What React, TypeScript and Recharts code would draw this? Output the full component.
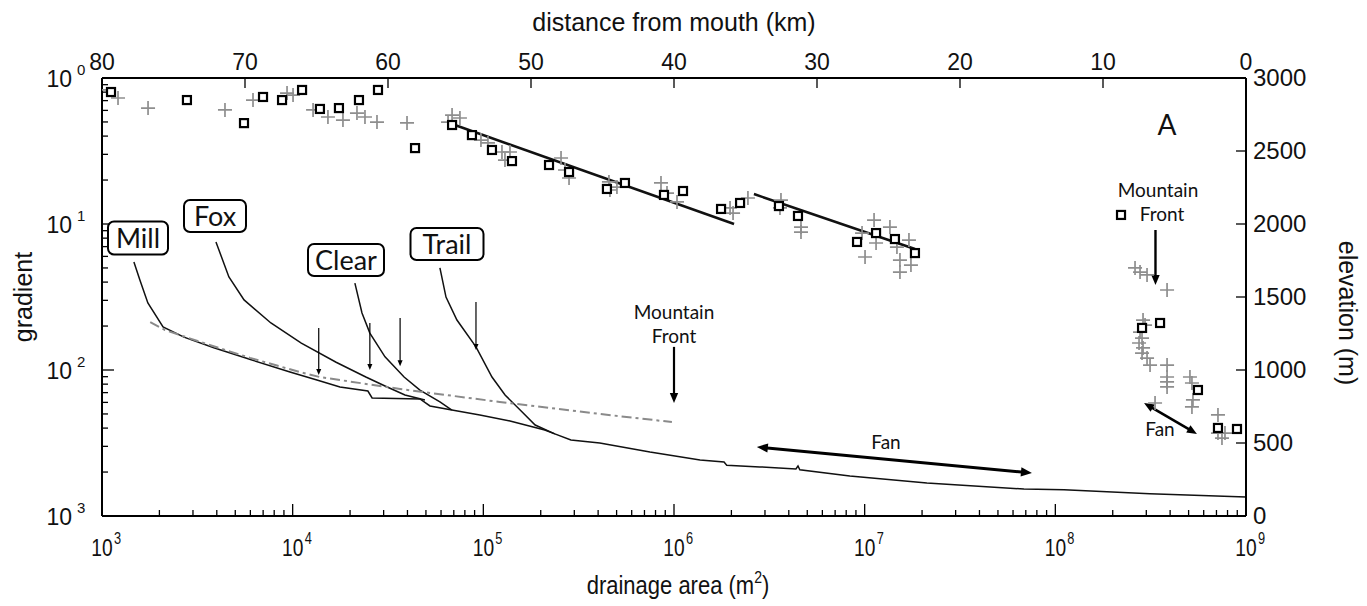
import React from "react";
import { ComposedChart, Line, Scatter, XAxis, YAxis, ReferenceLine } from "recharts";

// Gradient vs drainage area (bottom/left axes) plus long profile (top/right axes).
// Values.

const FONT = "'Liberation Sans', Arial, sans-serif";
const LABEL_FONT = "Lato, 'Open Sans', sans-serif";

// [drainage area m², gradient]
const millCurve: [number, number][] = [
  [1.47e3, 0.0549], [1.58e3, 0.0413], [1.74e3, 0.0288], [2.09e3, 0.0197], [2.69e3, 0.0168],
  [3.86e3, 0.0142], [6.12e3, 0.0117], [9.68e3, 0.00969], [1.34e4, 0.00855], [1.77e4, 0.00765],
  [2.48e4, 0.00718], [2.61e4, 0.00643], [4.65e4, 0.00633], [5.25e4, 0.00567], [6.84e4, 0.00532],
];
const foxCurve: [number, number][] = [
  [3.96e3, 0.0753], [4.63e3, 0.0434], [5.56e3, 0.0302], [7.69e3, 0.021], [1.11e4, 0.0153],
  [1.69e4, 0.0113], [2.42e4, 0.00895], [3.05e4, 0.00777], [3.88e4, 0.00674], [4.94e4, 0.00623],
];
const clearCurve: [number, number][] = [
  [2.12e4, 0.0394], [2.31e4, 0.0246], [2.54e4, 0.0179], [3.05e4, 0.0123], [3.84e4, 0.00895],
  [4.65e4, 0.00729], [5.92e4, 0.00604], [6.84e4, 0.00532],
];
const trailCurve: [number, number][] = [
  [5.92e4, 0.05], [6.37e4, 0.0316], [7.27e4, 0.022], [9.15e4, 0.0144], [1.11e5, 0.00895],
  [1.3e5, 0.00674], [1.56e5, 0.00532], [1.87e5, 0.0042], [2.37e5, 0.00365],
];
const trunkCurve: [number, number][] = [
  [6.84e4, 0.00532], [9.59e4, 0.00492], [1.38e5, 0.00448], [2.1e5, 0.00388], [2.37e5, 0.00365],
  [2.88e5, 0.00332], [4.08e5, 0.00316], [7.48e5, 0.00274], [1.37e6, 0.00242], [1.83e6, 0.00234],
  [1.89e6, 0.00223], [2.82e6, 0.00217], [4.36e6, 0.0021], [4.47e6, 0.0022], [4.57e6, 0.00207],
  [8.36e6, 0.00188], [2.12e7, 0.00168], [6.84e7, 0.00153], [1.11e8, 0.00151], [3.13e8, 0.00142],
  [1.0e9, 0.00135],
];
const millTrend: [number, number][] = [
  [1.79e3, 0.0213], [2.14e3, 0.0188], [3.26e3, 0.0156], [5.97e3, 0.0121], [1.09e4, 0.00969],
  [1.39e4, 0.00895], [3.66e4, 0.00741], [1.22e5, 0.00604], [4.08e5, 0.005], [9.75e5, 0.0044],
];

// [distance from mouth km, elevation m]
const profileSquares: [number, number][] = [
  [79.37, 2904], [74.06, 2849], [70.07, 2691], [68.74, 2870], [67.41, 2849], [66.01, 2918],
  [64.76, 2788], [63.43, 2794], [62.03, 2849], [60.7, 2918], [58.11, 2520], [55.52, 2678],
  [54.13, 2609], [52.73, 2507], [51.33, 2431], [48.74, 2404], [47.34, 2356], [44.69, 2240],
  [43.43, 2281], [40.7, 2199], [39.37, 2226], [36.71, 2103], [35.38, 2144], [32.66, 2123],
  [31.33, 2055], [27.2, 1877], [25.87, 1938], [24.55, 1897], [23.15, 1801], [8.74, 2062],
  [7.27, 1288], [6.01, 1322], [3.36, 863], [1.96, 603], [0.63, 596],
];
const profilePluses: [number, number][] = [
  [80.14, 2918], [78.88, 2863], [76.78, 2794], [71.4, 2781], [69.44, 2849], [67.06, 2897],
  [66.64, 2883], [65.24, 2781], [64.2, 2733], [63.15, 2712], [62.17, 2760], [61.61, 2733],
  [60.77, 2698], [58.67, 2692], [55.52, 2746], [55.8, 2698], [54.97, 2726], [53.5, 2575],
  [53.01, 2555], [52.03, 2493], [51.82, 2438], [51.47, 2493], [47.9, 2452], [47.62, 2370],
  [47.34, 2315], [44.55, 2288], [44.48, 2233], [43.99, 2253], [40.91, 2281], [40.49, 2212],
  [39.79, 2151], [36.08, 2110], [35.87, 2075], [34.83, 2178], [32.52, 2164], [32.59, 2110],
  [31.12, 1979], [31.12, 1945], [26.85, 1938], [26.64, 1774], [26.01, 2027], [25.87, 1870],
  [24.9, 1979], [24.41, 1842], [24.2, 1753], [24.2, 1671], [23.57, 1890], [23.43, 1719],
  [7.76, 1699], [7.41, 1671], [6.92, 1651], [5.52, 1548], [7.2, 1342], [7.06, 1308],
  [7.41, 1260], [7.27, 1219], [7.48, 1185], [7.2, 1151], [7.27, 1116], [6.92, 1082],
  [6.71, 1034], [5.52, 1034], [5.52, 952], [5.52, 918], [5.52, 884], [3.92, 952],
  [3.78, 911], [3.71, 795], [3.78, 747], [6.36, 774], [1.96, 692], [1.96, 568],
  [1.47, 568], [1.68, 534],
];
const upperFit: [number, number][] = [[55.52, 2685], [35.8, 2000]];
const lowerFit: [number, number][] = [[34.41, 2205], [23.15, 1829]];

// arrows: [area, gradient from, gradient to]
const knickArrows: [number, number, number][] = [
  [1.37e4, 0.0194, 0.00925], [2.54e4, 0.021, 0.01], [3.66e4, 0.0227, 0.0106], [9.15e4, 0.0292, 0.0137],
];
const frontArrowArea: [number, number, number] = [1.0e6, 0.0144, 0.00594];
const fanArrowArea: [number, number][] = [[2.72e6, 0.00297], [7.54e7, 0.00197]];
const frontArrowProfile: [number, number, number] = [6.33, 1959, 1582];
const fanArrowProfile: [number, number][] = [[7.13, 774], [3.43, 562]];

const areaTicks: number[] = [];
for (let n = 3; n <= 9; n++) for (let k = 1; k <= (n === 9 ? 1 : 9); k++) areaTicks.push(k * 10 ** n);
const gradTicks: number[] = [];
for (let n = -3; n <= 0; n++) for (let k = 1; k <= (n === 0 ? 1 : 9); k++) gradTicks.push(+(k * 10 ** n).toPrecision(3));
const distTicks = [0, 10, 20, 30, 40, 50, 60, 70, 80];
const elevTicks = [0, 500, 1000, 1500, 2000, 2500, 3000];

const ag = (pts: [number, number][]) => pts.map(([a, g]) => ({ a, g }));
const de = (pts: [number, number][]) => pts.map(([d, e]) => ({ d, e }));
const isDecade = (v: number) => Math.abs(Math.log10(v) - Math.round(Math.log10(v))) < 1e-6;

function AreaTick(props: any) {
  const { x, y, payload } = props;
  const major = isDecade(payload.value);
  return (
    <g>
      <line x1={x} x2={x} y1={y} y2={y - (major ? 12 : 6)} stroke="#000" strokeWidth={1.3} />
      {major && (
        <g transform={`translate(${x},${y + 40}) scale(0.8,1)`} fill="#111" fontFamily={FONT}>
          <text x={-13.3} y={0} fontSize={24}>10</text>
          <text x={15} y={-12} fontSize={16}>{Math.round(Math.log10(payload.value))}</text>
        </g>
      )}
    </g>
  );
}

function GradTick(props: any) {
  const { x, y, payload } = props;
  const major = isDecade(payload.value);
  return (
    <g>
      <line x1={x} x2={x + (major ? 12 : 6)} y1={y} y2={y} stroke="#000" strokeWidth={1.3} />
      {major && (
        <g fill="#111" fontFamily={FONT}>
          <text x={x - 30} y={y + 9} fontSize={23} textAnchor="end">10</text>
          <text x={x - 25} y={y - 3} fontSize={15}>{-Math.round(Math.log10(payload.value))}</text>
        </g>
      )}
    </g>
  );
}

function DistTick(props: any) {
  const { x, y, payload } = props;
  return (
    <g>
      <line x1={x} x2={x} y1={y} y2={y + 10} stroke="#000" strokeWidth={1.3} />
      <text x={x} y={y - 8} textAnchor="middle" fontSize={23} fontFamily={FONT} fill="#111">
        {payload.value}
      </text>
    </g>
  );
}

function ElevTick(props: any) {
  const { x, y, payload } = props;
  return (
    <g>
      <line x1={x} x2={x - 10} y1={y} y2={y} stroke="#000" strokeWidth={1.3} />
      <text x={x + 7} y={y + 8} fontSize={24} fontFamily={FONT} fill="#111">
        {payload.value}
      </text>
    </g>
  );
}

const PlusShape = (p: any) => (
  <path d={`M${p.cx - 7},${p.cy}H${p.cx + 7}M${p.cx},${p.cy - 7}V${p.cy + 7}`} stroke="#8e8e8e" strokeWidth={1.7} />
);
const SquareShape = (p: any) => (
  <rect x={p.cx - 4} y={p.cy - 4} width={8} height={8} fill="#fff" stroke="#000" strokeWidth={2.2} />
);

function arrowShape(width: number, head: number, both = false) {
  return (p: any) => {
    const { x1, y1, x2, y2 } = p;
    if (![x1, y1, x2, y2].every((v) => Number.isFinite(v))) return <g />;
    const len = Math.hypot(x2 - x1, y2 - y1) || 1;
    const ux = (x2 - x1) / len;
    const uy = (y2 - y1) / len;
    const hw = head * 0.42;
    const tri = (tx: number, ty: number, sx: number, sy: number) => {
      const bx = tx - sx * head;
      const by = ty - sy * head;
      return `M${tx},${ty}L${bx - sy * hw},${by + sx * hw}L${bx + sy * hw},${by - sx * hw}Z`;
    };
    return (
      <g>
        <line
          x1={both ? x1 + ux * head * 0.7 : x1}
          y1={both ? y1 + uy * head * 0.7 : y1}
          x2={x2 - ux * head * 0.7}
          y2={y2 - uy * head * 0.7}
          stroke="#000"
          strokeWidth={width}
        />
        <path d={tri(x2, y2, ux, uy)} fill="#000" />
        {both && <path d={tri(x1, y1, -ux, -uy)} fill="#000" />}
      </g>
    );
  };
}

const boxes = [
  { t: "Mill", cx: 138, cy: 238, w: 60, h: 33 },
  { t: "Fox", cx: 215, cy: 216, w: 62, h: 32 },
  { t: "Clear", cx: 346, cy: 260, w: 76, h: 32 },
  { t: "Trail", cx: 447, cy: 244, w: 73, h: 32 },
];

export default function App() {
  const curveProps = {
    xAxisId: "area",
    yAxisId: "grad",
    dataKey: "g",
    type: "linear" as const,
    dot: false,
    activeDot: false,
    isAnimationActive: false,
    stroke: "#111",
    strokeWidth: 1.5,
  };
  return (
    <div style={{ position: "absolute", left: 0, top: 0, width: 1367, height: 606, background: "#fff" }}>
      <ComposedChart width={1367} height={606} margin={{ top: 8, right: 6, bottom: 5, left: 2 }}>
        <XAxis
          xAxisId="area"
          dataKey="a"
          type="number"
          scale="log"
          domain={[1e3, 1e9]}
          allowDataOverflow
          ticks={areaTicks}
          interval={0}
          height={85}
          tickSize={0}
          tickMargin={0}
          tickLine={false}
          tick={<AreaTick />}
          axisLine={{ stroke: "#000", strokeWidth: 2 }}
        />
        <XAxis
          xAxisId="dist"
          dataKey="d"
          type="number"
          orientation="top"
          domain={[0, 80]}
          reversed
          allowDataOverflow
          ticks={distTicks}
          interval={0}
          height={70}
          tickSize={0}
          tickMargin={0}
          tickLine={false}
          tick={<DistTick />}
          axisLine={{ stroke: "#000", strokeWidth: 2 }}
        />
        <YAxis
          yAxisId="grad"
          dataKey="g"
          type="number"
          scale="log"
          domain={[1e-3, 1]}
          allowDataOverflow
          ticks={gradTicks}
          interval={0}
          width={100}
          tickSize={0}
          tickMargin={0}
          tickLine={false}
          tick={<GradTick />}
          axisLine={{ stroke: "#000", strokeWidth: 2 }}
        />
        <YAxis
          yAxisId="elev"
          dataKey="e"
          type="number"
          orientation="right"
          domain={[0, 3000]}
          allowDataOverflow
          ticks={elevTicks}
          interval={0}
          width={115}
          tickSize={0}
          tickMargin={0}
          tickLine={false}
          tick={<ElevTick />}
          axisLine={{ stroke: "#000", strokeWidth: 2 }}
        />

        <Line {...curveProps} data={ag(trunkCurve)} />
        <Line {...curveProps} data={ag(millCurve)} />
        <Line {...curveProps} data={ag(foxCurve)} />
        <Line {...curveProps} data={ag(clearCurve)} />
        <Line {...curveProps} data={ag(trailCurve)} />
        <Line {...curveProps} data={ag(millTrend)} stroke="#8a8a8a" strokeWidth={2} strokeDasharray="10 4 3 4" />

        <Scatter xAxisId="dist" yAxisId="elev" data={de(profilePluses)} shape={PlusShape} isAnimationActive={false} />
        <Line xAxisId="dist" yAxisId="elev" dataKey="e" data={de(upperFit)} dot={false} activeDot={false}
          stroke="#111" strokeWidth={2.6} isAnimationActive={false} />
        <Line xAxisId="dist" yAxisId="elev" dataKey="e" data={de(lowerFit)} dot={false} activeDot={false}
          stroke="#111" strokeWidth={2.6} isAnimationActive={false} />
        <Scatter xAxisId="dist" yAxisId="elev" data={de(profileSquares)} shape={SquareShape} isAnimationActive={false} />

        {knickArrows.map(([a, g1, g2], i) => (
          <ReferenceLine key={i} xAxisId="area" yAxisId="grad" ifOverflow="visible"
            segment={[{ x: a, y: g1 }, { x: a, y: g2 }]} shape={arrowShape(1.2, 6)} />
        ))}
        <ReferenceLine xAxisId="area" yAxisId="grad" ifOverflow="visible"
          segment={[{ x: frontArrowArea[0], y: frontArrowArea[1] }, { x: frontArrowArea[0], y: frontArrowArea[2] }]}
          shape={arrowShape(2.2, 10)} />
        <ReferenceLine xAxisId="area" yAxisId="grad" ifOverflow="visible"
          segment={fanArrowArea.map(([x, y]) => ({ x, y }))} shape={arrowShape(3, 11, true)} />
        <ReferenceLine xAxisId="dist" yAxisId="elev" ifOverflow="visible"
          segment={[{ x: frontArrowProfile[0], y: frontArrowProfile[1] }, { x: frontArrowProfile[0], y: frontArrowProfile[2] }]}
          shape={arrowShape(2.4, 10)} />
        <ReferenceLine xAxisId="dist" yAxisId="elev" ifOverflow="visible"
          segment={fanArrowProfile.map(([x, y]) => ({ x, y }))} shape={arrowShape(2.6, 10, true)} />
      </ComposedChart>

      <svg width={1367} height={606} style={{ position: "absolute", left: 0, top: 0, pointerEvents: "none" }}>
        <g fill="#111" fontFamily={FONT}>
          <text x={674} y={31} fontSize={25} textAnchor="middle">distance from mouth (km)</text>
          <g transform="translate(678,594) scale(0.88,1)">
            <text x={0} y={0} fontSize={25} textAnchor="middle">
              drainage area (m<tspan dy={-11} fontSize={16}>2</tspan><tspan dy={11}>)</tspan>
            </text>
          </g>
          <text transform="translate(32,297) rotate(-90)" fontSize={25} textAnchor="middle">gradient</text>
          <text transform="translate(1339,313) rotate(90)" fontSize={25} textAnchor="middle">elevation (m)</text>
        </g>
        <g fill="#111" fontFamily={LABEL_FONT}>
          <text x={1167} y={135} fontSize={28} textAnchor="middle">A</text>
          <text x={1158} y={197} fontSize={19} textAnchor="middle">Mountain</text>
          <text x={1162} y={221} fontSize={19} textAnchor="middle">Front</text>
          <text x={674} y={319} fontSize={19} textAnchor="middle">Mountain</text>
          <text x={674} y={343} fontSize={19} textAnchor="middle">Front</text>
          <text x={886} y={449} fontSize={19} textAnchor="middle">Fan</text>
          <text x={1160} y={436} fontSize={19} textAnchor="middle">Fan</text>
        </g>
        {boxes.map((b) => (
          <g key={b.t}>
            <rect x={b.cx - b.w / 2} y={b.cy - b.h / 2} width={b.w} height={b.h} rx={6}
              fill="#fff" stroke="#000" strokeWidth={2} />
            <text x={b.cx} y={b.cy + 10} fontSize={27} textAnchor="middle" fontFamily={LABEL_FONT} fill="#111">
              {b.t}
            </text>
          </g>
        ))}
      </svg>
    </div>
  );
}
